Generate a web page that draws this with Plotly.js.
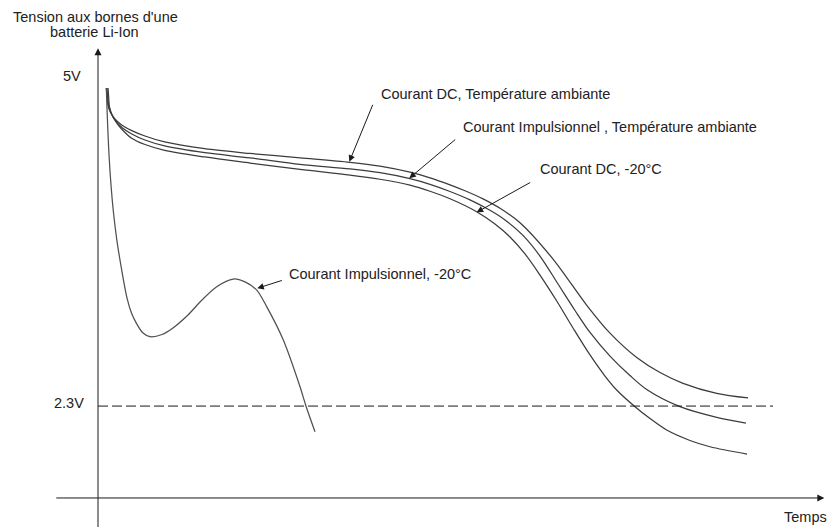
<!DOCTYPE html>
<html>
<head>
<meta charset="utf-8">
<script src="https://cdn.plot.ly/plotly-3.0.1.min.js"></script>
<style>
html,body{margin:0;padding:0;background:#fff;}
#chart{width:830px;height:527px;}
</style>
</head>
<body>
<div id="chart"></div>
<script>
// ---- Data (time in arbitrary units, voltage in V) ----
const timeDcAmb = [1.23,1.36,1.48,1.85,2.47,3.41,4.93,6.96,9.88,15.81,22.52,29.93,37.33,41.78,46.22,49.19,52.15,54.37,57.04,59.56,62.52,67.41,72.44,75.85,79.81,83.26,86.67,91.66,96.30];
const voltDcAmb = [4.927,4.852,4.784,4.724,4.673,4.625,4.577,4.530,4.481,4.425,4.386,4.350,4.313,4.281,4.231,4.185,4.127,4.078,4.011,3.933,3.814,3.514,3.130,2.902,2.701,2.577,2.488,2.405,2.367];

const timeImpAmb = [1.33,1.45,1.59,2.00,2.67,3.63,4.93,6.96,9.88,15.81,22.52,29.93,37.33,41.78,46.22,49.19,52.15,55.11,58.07,60.30,62.96,65.48,68.15,70.67,72.89,75.85,78.81,81.29,86.22,91.66,96.00];
const voltImpAmb = [4.927,4.844,4.778,4.712,4.650,4.596,4.549,4.497,4.448,4.392,4.350,4.296,4.259,4.227,4.178,4.131,4.072,4.003,3.917,3.837,3.710,3.539,3.308,3.089,2.908,2.713,2.552,2.437,2.295,2.207,2.160];

const timeDcCold = [1.48,1.59,1.70,2.15,2.89,3.85,4.93,6.96,9.88,15.81,22.52,29.93,37.33,41.78,46.22,49.19,52.15,56.10,58.81,61.04,63.26,65.48,67.96,70.37,72.89,75.11,76.84,79.56,81.78,84.25,87.70,90.67,96.15];
const voltDcCold = [4.927,4.844,4.770,4.695,4.629,4.567,4.514,4.460,4.412,4.357,4.307,4.254,4.208,4.173,4.124,4.074,4.012,3.905,3.803,3.696,3.556,3.382,3.168,2.945,2.722,2.548,2.433,2.295,2.197,2.102,2.016,1.964,1.904];

const timeImpCold = [1.23,1.36,1.57,1.87,2.30,2.79,3.51,4.30,4.99,5.70,6.59,7.70,9.48,11.11,13.33,15.11,17.58,20.04,21.78,23.51,24.99,27.45,29.93,30.81,32.15];
const voltImpCold = [4.927,4.720,4.442,4.167,3.894,3.671,3.424,3.192,3.064,2.983,2.908,2.873,2.891,2.945,3.052,3.159,3.286,3.349,3.325,3.258,3.121,2.846,2.460,2.301,2.088];

const thresholdTime = [0, 100];
const thresholdVolt = [2.3, 2.3];

const curveLabels = [
  "Courant DC, Température ambiante",
  "Courant Impulsionnel , Température ambiante",
  "Courant DC, -20°C",
  "Courant Impulsionnel, -20°C"
];
const tickValues = [5, 2.3];
const tickTexts = ["5V", "2.3V"];
const yTitleLines = ["Tension aux bornes d'une", "batterie Li-Ion"];
const xTitle = "Temps";

// ---- Styling / layout ----
const FONT = "Arial, 'Liberation Sans', sans-serif";
const FS = 14.5;
const curveColor = "#3c3c3c";
const axisColor = "#1a1a1a";
const textColor = "#222222";

function curve(x, y, color, w) {
  return {x: x, y: y, type: "scatter", mode: "lines",
          line: {color: color, width: w, shape: "spline", smoothing: 0.9},
          hoverinfo: "skip"};
}

const traces = [
  curve(timeDcAmb, voltDcAmb, curveColor, 1.25),
  curve(timeImpAmb, voltImpAmb, curveColor, 1.25),
  curve(timeDcCold, voltDcCold, curveColor, 1.25),
  curve(timeImpCold, voltImpCold, "#505050", 1.25),
  {x: thresholdTime, y: thresholdVolt, type: "scatter", mode: "lines",
   line: {color: axisColor, width: 1, dash: "10px,4px"}, hoverinfo: "skip"}
];

const xAxisV = 1.541;   // level where the time axis is drawn
const annotations = [];

// axes drawn as arrows
annotations.push({x: 107.6, y: xAxisV, ax: -6.4, ay: xAxisV, axref: "x", ayref: "y",
  xref: "x", yref: "y", text: "", showarrow: true, arrowhead: 2, arrowsize: 1.4,
  arrowwidth: 1, arrowcolor: axisColor, standoff: 0, startstandoff: 0});
annotations.push({x: 0, y: 5.254, ax: 0, ay: 1.25, axref: "x", ayref: "y",
  xref: "x", yref: "y", text: "", showarrow: true, arrowhead: 2, arrowsize: 1.4,
  arrowwidth: 1, arrowcolor: axisColor, standoff: 0, startstandoff: 0});

// tick labels
const tickRight = [-2.2, -1.78];
tickValues.forEach((v, i) => {
  annotations.push({x: tickRight[i], y: v, xref: "x", yref: "y", text: tickTexts[i],
    showarrow: false, xanchor: "right", yanchor: "middle", yshift: 3,
    font: {family: FONT, size: FS, color: textColor}});
});

// axis titles
annotations.push({x: -0.44, y: 5.515, xref: "x", yref: "y", text: yTitleLines[0],
  showarrow: false, xanchor: "center", yanchor: "middle",
  font: {family: FONT, size: FS, color: textColor}});
annotations.push({x: -0.5, y: 5.385, xref: "x", yref: "y", text: yTitleLines[1],
  showarrow: false, xanchor: "center", yanchor: "middle",
  font: {family: FONT, size: FS, color: textColor}});
annotations.push({x: 108.3, y: 1.381, xref: "x", yref: "y", text: xTitle,
  showarrow: false, xanchor: "right", yanchor: "middle",
  font: {family: FONT, size: FS, color: textColor}});

// curve labels + pointer arrows
const labelPos = [[41.7, 4.875], [53.8, 4.603], [65.2, 4.258], [28.0, 3.391]];
const arrowTail = [[40.79, 4.800], [53.14, 4.511], [64.25, 4.153], [27.45, 3.341]];
const arrowTip  = [[37.23, 4.318], [46.12, 4.181], [56.10, 3.900], [23.60, 3.273]];
curveLabels.forEach((t, i) => {
  annotations.push({x: labelPos[i][0], y: labelPos[i][1], xref: "x", yref: "y", text: t,
    showarrow: false, xanchor: "left", yanchor: "middle",
    font: {family: FONT, size: FS, color: textColor}});
  annotations.push({x: arrowTip[i][0], y: arrowTip[i][1], ax: arrowTail[i][0], ay: arrowTail[i][1],
    axref: "x", ayref: "y", xref: "x", yref: "y", text: "", showarrow: true,
    arrowhead: 2, arrowsize: 1.3, arrowwidth: 1, arrowcolor: axisColor,
    standoff: 0, startstandoff: 0});
});

const layout = {
  width: 830, height: 527, autosize: false,
  margin: {l: 0, r: 0, t: 0, b: 0, pad: 0},
  paper_bgcolor: "#ffffff", plot_bgcolor: "#ffffff",
  showlegend: false, hovermode: false,
  xaxis: {range: [-14.519, 108.444], visible: false, fixedrange: true},
  yaxis: {range: [1.3014, 5.6532], visible: false, fixedrange: true},
  annotations: annotations
};

Plotly.newPlot("chart", traces, layout, {displayModeBar: false, staticPlot: true});
</script>
</body>
</html>
